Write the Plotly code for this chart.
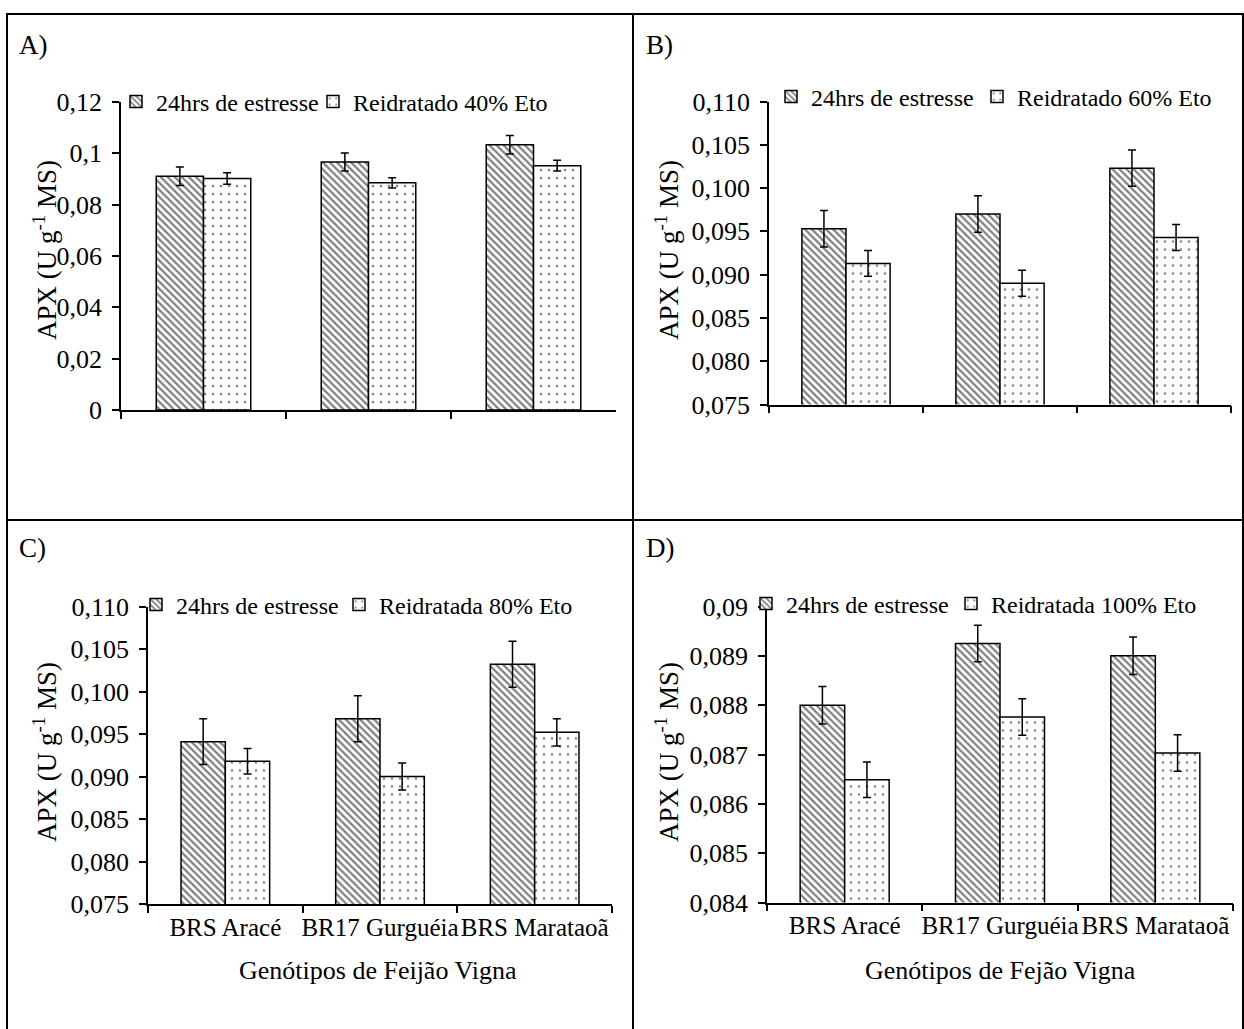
import plotly.graph_objects as go

W, H = 1244, 1029
FONT = "Liberation Serif"

categories = ["BRS Aracé", "BR17 Gurguéia", "BRS Marataoã"]

# Panel A
a_stress = [0.0911, 0.0966, 0.1033]
a_stress_err = [0.0036, 0.0035, 0.0036]
a_rehyd = [0.0902, 0.0885, 0.0952]
a_rehyd_err = [0.0022, 0.0020, 0.0021]
# Panel B
b_stress = [0.0953, 0.0970, 0.1023]
b_stress_err = [0.0021, 0.0021, 0.0021]
b_rehyd = [0.0913, 0.0890, 0.0943]
b_rehyd_err = [0.0015, 0.0015, 0.0015]
# Panel C
c_stress = [0.0941, 0.0968, 0.1032]
c_stress_err = [0.0027, 0.0027, 0.0027]
c_rehyd = [0.0918, 0.0900, 0.0952]
c_rehyd_err = [0.0015, 0.0016, 0.0016]
# Panel D
d_stress = [0.0880, 0.08925, 0.0890]
d_stress_err = [0.00038, 0.00037, 0.00038]
d_rehyd = [0.08649, 0.08776, 0.08703]
d_rehyd_err = [0.00036, 0.00037, 0.00037]

stress_name = "24hrs de estresse"
rehyd_names = ["Reidratado 40% Eto", "Reidratado 60% Eto", "Reidratada 80% Eto", "Reidratada 100% Eto"]

a_ticks = [0, 0.02, 0.04, 0.06, 0.08, 0.1, 0.12]
a_ticktext = ["0", "0,02", "0,04", "0,06", "0,08", "0,1", "0,12"]
bc_ticks = [0.075, 0.080, 0.085, 0.090, 0.095, 0.100, 0.105, 0.110]
bc_ticktext = ["0,075", "0,080", "0,085", "0,090", "0,095", "0,100", "0,105", "0,110"]
d_ticks = [0.084, 0.085, 0.086, 0.087, 0.088, 0.089, 0.090]
d_ticktext = ["0,084", "0,085", "0,086", "0,087", "0,088", "0,089", "0,09"]

y_title = "APX (U g<sup>-1</sup> MS)"
x_titles = ["Genótipos de Feijão Vigna", "Genótipos de Fejão Vigna"]

def px_x(x):
    return x / W

def px_y(y):
    return 1 - y / H

panels = [
    dict(s=a_stress, se=a_stress_err, r=a_rehyd, re=a_rehyd_err, xr=(121, 616), yr=(410, 102),
         rng=[0, 0.12], tv=a_ticks, tt=a_ticktext, lab=False),
    dict(s=b_stress, se=b_stress_err, r=b_rehyd, re=b_rehyd_err, xr=(769, 1231), yr=(404.5, 101.5),
         rng=[0.075, 0.110], tv=bc_ticks, tt=bc_ticktext, lab=False),
    dict(s=c_stress, se=c_stress_err, r=c_rehyd, re=c_rehyd_err, xr=(148, 612), yr=(904, 606.5),
         rng=[0.075, 0.110], tv=bc_ticks, tt=bc_ticktext, lab=True),
    dict(s=d_stress, se=d_stress_err, r=d_rehyd, re=d_rehyd_err, xr=(767, 1233), yr=(902.5, 606.5),
         rng=[0.084, 0.090], tv=d_ticks, tt=d_ticktext, lab=True),
]

# text start x of each legend entry (stress, rehydrated) and center y
legend_text_pos = [((155, 352), 102), ((810, 1016), 97), ((175, 378), 605), ((785, 990), 604)]
LEG_OFFSET = 39

fig = go.Figure()
layout = dict()

for i, p in enumerate(panels):
    n = "" if i == 0 else str(i + 1)
    (tx1, tx2), ly = legend_text_pos[i]
    lg1 = "legend" if i == 0 else "legend" + str(2 * i + 1)
    lg2 = "legend" + str(2 * i + 2)
    fig.add_trace(go.Bar(
        x=categories, y=p["s"], name=stress_name, xaxis="x" + n, yaxis="y" + n, legend=lg1,
        showlegend=True,
        marker=dict(color="white", line=dict(color="black", width=1.5),
                    pattern=dict(shape="\\", fgcolor="black", bgcolor="white", size=5, solidity=0.45)),
        error_y=dict(type="data", array=p["se"], color="black", thickness=1.5, width=4),
    ))
    fig.add_trace(go.Bar(
        x=categories, y=p["r"], name=rehyd_names[i], xaxis="x" + n, yaxis="y" + n, legend=lg2,
        showlegend=True,
        marker=dict(color="white", line=dict(color="black", width=1.5),
                    pattern=dict(shape=".", fgcolor="black", bgcolor="white", size=8, solidity=0.085)),
        error_y=dict(type="data", array=p["re"], color="black", thickness=1.5, width=4),
    ))
    layout["xaxis" + n] = dict(
        domain=[px_x(p["xr"][0]), px_x(p["xr"][1])], anchor="y" + n, type="category",
        categoryorder="array", categoryarray=categories, range=[-0.5, 2.5],
        showline=True, linecolor="black", linewidth=1.5, ticks="outside", ticklen=7,
        tickwidth=1.5, tickcolor="black", tickson="boundaries", showgrid=False,
        showticklabels=p["lab"], tickangle=0, automargin=False,
        tickfont=dict(family=FONT, size=25, color="black"),
        fixedrange=True,
    )
    layout["yaxis" + n] = dict(
        domain=[px_y(p["yr"][0]), px_y(p["yr"][1])], anchor="x" + n, range=p["rng"],
        showline=True, linecolor="black", linewidth=1.5, ticks="outside", ticklen=7,
        tickwidth=1.5, tickcolor="black", showgrid=False, zeroline=False, automargin=False,
        tickvals=p["tv"], ticktext=p["tt"], ticklabelstandoff=5,
        tickfont=dict(family=FONT, size=26, color="black"),
    )
    for lg, tx in [(lg1, tx1), (lg2, tx2)]:
        layout[lg] = dict(
            x=px_x(tx - LEG_OFFSET), y=px_y(ly), xanchor="left", yanchor="middle", orientation="h",
            font=dict(family=FONT, size=24, color="black"), bgcolor="rgba(0,0,0,0)",
            itemwidth=30, tracegroupgap=0, visible=True,
        )

annotations = []
for lbl, x, y in [("A)", 17, 45), ("B)", 644, 45), ("C)", 17, 548), ("D)", 644, 548)]:
    annotations.append(dict(text=lbl, x=px_x(x), y=px_y(y), xref="paper", yref="paper",
                            xanchor="left", yanchor="middle", showarrow=False,
                            font=dict(family=FONT, size=27, color="black")))
for x, y in [(45, 250), (667, 250), (45, 752), (667, 752)]:
    annotations.append(dict(text=y_title, x=px_x(x), y=px_y(y), xref="paper", yref="paper",
                            xanchor="center", yanchor="middle", textangle=-90, showarrow=False,
                            font=dict(family=FONT, size=27, color="black")))
for t, x, y in [(x_titles[0], 378, 970), (x_titles[1], 1000, 970)]:
    annotations.append(dict(text=t, x=px_x(x), y=px_y(y), xref="paper", yref="paper",
                            xanchor="center", yanchor="middle", showarrow=False,
                            font=dict(family=FONT, size=26, color="black")))

shapes = [
    dict(type="rect", xref="paper", yref="paper", x0=px_x(7), x1=px_x(1243), y0=px_y(1031), y1=px_y(14),
         line=dict(color="black", width=2), fillcolor="rgba(0,0,0,0)", layer="below"),
    dict(type="line", xref="paper", yref="paper", x0=px_x(633), x1=px_x(633), y0=px_y(1031), y1=px_y(14),
         line=dict(color="black", width=2)),
    dict(type="line", xref="paper", yref="paper", x0=px_x(7), x1=px_x(1243), y0=px_y(520), y1=px_y(520),
         line=dict(color="black", width=2)),
]

fig.update_layout(
    width=W, height=H, margin=dict(l=0, r=0, t=0, b=0, autoexpand=False),
    paper_bgcolor="white", plot_bgcolor="white", showlegend=True,
    barmode="group", bargap=0.427, bargroupgap=0,
    font=dict(family=FONT, size=24, color="black"),
    annotations=annotations, shapes=shapes, **layout,
)

fig.write_html("out.html")
